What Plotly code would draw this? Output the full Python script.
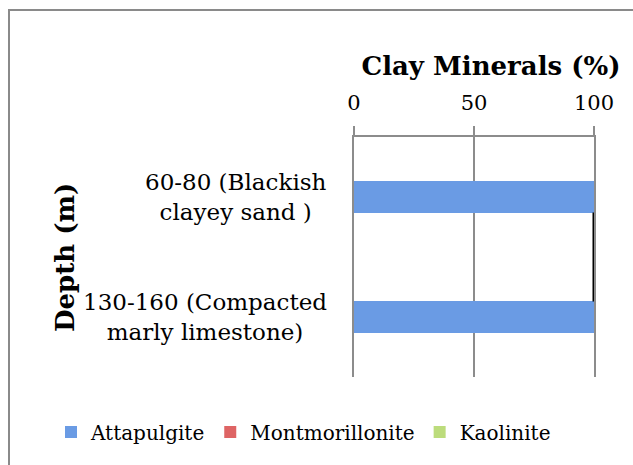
import plotly.graph_objects as go

categories = ["60-80 (Blackish<br>clayey sand )", "130-160 (Compacted<br>marly limestone)"]
series_names = ["Attapulgite", "Montmorillonite", "Kaolinite"]
attapulgite = [100, 100]
montmorillonite = [0, 0]
kaolinite = [0, 0]
x_ticks = [0, 50, 100]

colors = ["#6a9be4", "#de6464", "#bcdc7c"]
values = [attapulgite, montmorillonite, kaolinite]
FONT = "DejaVu Serif"
BAR_W = 0.26

fig = go.Figure()
for name, vals, col in zip(series_names, values, colors):
    fig.add_trace(go.Bar(
        y=categories, x=vals, name=name, orientation="h",
        marker=dict(color=col, line=dict(width=0)), width=BAR_W,
    ))

# series line connecting stacked ends
totals = [sum(v[i] for v in values) for i in range(len(categories))]
for i in range(len(categories) - 1):
    fig.add_shape(type="line", xref="x", yref="y",
                  x0=totals[i], x1=totals[i + 1],
                  y0=i + BAR_W / 2, y1=i + 1 - BAR_W / 2,
                  line=dict(color="black", width=3))

# category labels (centered multi-line)
for c in categories:
    fig.add_annotation(x=(329 - 354) / 240, xref="paper", y=c, yref="y", text=c,
                       showarrow=False, xanchor="right", align="center",
                       font=dict(family=FONT, size=23, color="black"))

fig.add_annotation(x=(65 - 354) / 240, xref="paper", y=(377 - 258) / 240, yref="paper",
                   text="<b>Depth (m)</b>",
                   textangle=-90, showarrow=False, xanchor="center", yanchor="middle",
                   font=dict(family=FONT, size=26, color="black"))

# outer frame
fig.add_shape(type="rect", xref="paper", yref="paper",
              x0=(9 - 354) / 240, x1=1.3, y0=-0.5, y1=(377 - 10) / 240,
              line=dict(color="#8a8a8a", width=2), fillcolor="rgba(0,0,0,0)", layer="below")

fig.update_layout(
    width=633, height=465,
    margin=dict(l=354, r=39, t=137, b=88, autoexpand=False),
    paper_bgcolor="white", plot_bgcolor="white",
    barmode="stack", bargap=0.74,
    title=dict(text="<b>Clay Minerals (%)</b>", x=491 / 633, xref="container",
               xanchor="center", y=1 - 66 / 465, yanchor="middle",
               font=dict(family=FONT, size=26, color="black")),
    xaxis=dict(side="top", range=[0, 100], tickvals=x_ticks, ticktext=[str(t) for t in x_ticks],
               showgrid=True, gridcolor="#8c8c8c", gridwidth=1.5,
               showline=True, linecolor="#8c8c8c", linewidth=1.5,
               ticks="outside", ticklen=9, tickcolor="#8c8c8c", tickwidth=1.5,
               ticklabelstandoff=8,
               tickfont=dict(family=FONT, size=21, color="black"), zeroline=False),
    yaxis=dict(type="category", autorange="reversed", showticklabels=False,
               showgrid=False, zeroline=False, showline=True, mirror=True,
               linecolor="#8c8c8c", linewidth=1.5, ticks=""),
    legend=dict(orientation="h", x=(51 - 354) / 240, xanchor="left",
                y=(377 - 432) / 240, yanchor="middle",
                font=dict(family=FONT, size=20, color="black"), traceorder="normal",
                bgcolor="rgba(0,0,0,0)", itemwidth=30),
    showlegend=True,
)

fig.write_html("out.html", config={"displayModeBar": False},
               post_script="document.body.style.margin='0';")
